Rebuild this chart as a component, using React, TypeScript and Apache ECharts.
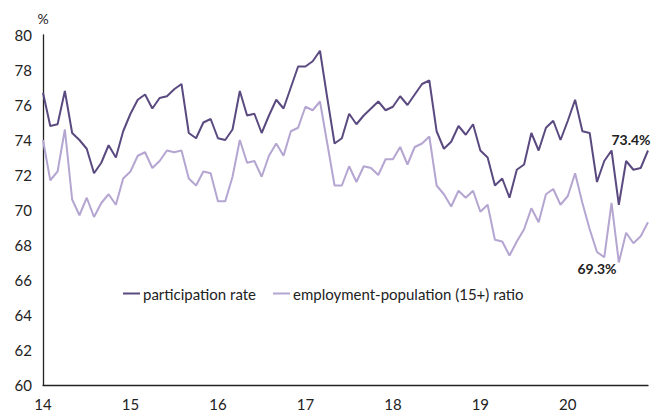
import React, { useEffect, useRef } from "react";
import * as echarts from "echarts";

const years = [2014, 2015, 2016, 2017, 2018, 2019, 2020];
const months = ["01", "02", "03", "04", "05", "06", "07", "08", "09", "10", "11", "12"];
const categories: string[] = [];
years.forEach((y) => months.forEach((m) => categories.push(`${y}-${m}`)));

const participationRate = [
  76.7, 74.8, 74.9, 76.8, 74.4, 74.0, 73.5, 72.1, 72.7, 73.7, 73.0, 74.5,
  75.5, 76.3, 76.6, 75.8, 76.4, 76.5, 76.9, 77.2, 74.4, 74.1, 75.0, 75.2,
  74.1, 74.0, 74.6, 76.8, 75.4, 75.5, 74.4, 75.4, 76.3, 75.8, 77.0, 78.2,
  78.2, 78.5, 79.1, 76.4, 73.8, 74.1, 75.5, 74.9, 75.4, 75.8, 76.2, 75.7,
  75.9, 76.5, 76.0, 76.6, 77.2, 77.4, 74.5, 73.5, 73.9, 74.8, 74.3, 74.9,
  73.4, 73.0, 71.4, 71.8, 70.7, 72.3, 72.6, 74.4, 73.4, 74.7, 75.1, 74.0,
  75.1, 76.3, 74.5, 74.4, 71.6, 72.8, 73.4, 70.3, 72.8, 72.3, 72.4, 73.4,
];

const employmentRatio = [
  74.0, 71.7, 72.2, 74.6, 70.6, 69.7, 70.7, 69.6, 70.4, 70.9, 70.3, 71.8,
  72.2, 73.1, 73.3, 72.4, 72.8, 73.4, 73.3, 73.4, 71.8, 71.4, 72.2, 72.1,
  70.5, 70.5, 71.9, 74.0, 72.7, 72.8, 71.9, 73.1, 73.8, 73.1, 74.5, 74.7,
  75.9, 75.7, 76.2, 73.8, 71.4, 71.4, 72.5, 71.6, 72.5, 72.4, 72.0, 72.9,
  72.9, 73.6, 72.6, 73.6, 73.8, 74.2, 71.4, 70.9, 70.2, 71.1, 70.7, 71.1,
  69.9, 70.3, 68.3, 68.2, 67.4, 68.2, 68.9, 70.1, 69.3, 70.9, 71.2, 70.3,
  70.8, 72.1, 70.4, 68.9, 67.6, 67.3, 70.4, 67.0, 68.7, 68.1, 68.5, 69.3,
];

const seriesNames = ["participation rate", "employment-population (15+) ratio"];
const yTicks = { min: 60, max: 80, interval: 2 };

const FONT = "Lato";
const TEXT = "#222222";
const DARK = "#5a4a80";
const LIGHT = "#b4a5d1";
const FS = 15;

function withLastLabel(values: number[], label: any) {
  return values.map((v, i) =>
    i === values.length - 1
      ? { value: v, label: { show: true, formatter: `${v.toFixed(1)}%`, ...label } }
      : v
  );
}

export default function App() {
  const ref = useRef<HTMLDivElement>(null);

  useEffect(() => {
    document.body.style.margin = "0";
    if (!ref.current) return;
    const chart = echarts.init(ref.current, undefined, { renderer: "svg" });
    const labelStyle = {
      fontFamily: FONT,
      fontSize: 14,
      fontWeight: "bold",
      color: TEXT,
    };
    chart.setOption({
      animation: false,
      textStyle: { fontFamily: FONT, color: TEXT },
      grid: { left: 43, right: 19, top: 35, bottom: 32, containLabel: false },
      legend: {
        left: 118,
        top: 281,
        itemWidth: 17,
        itemHeight: 2,
        itemGap: 17,
        icon: "rect",
        textStyle: { fontFamily: FONT, fontSize: FS, color: TEXT, padding: [0, 0, 0, -2] },
        data: seriesNames,
      },
      xAxis: {
        type: "category",
        data: categories,
        boundaryGap: false,
        axisLine: { show: true, lineStyle: { color: "#222", width: 1.3 } },
        axisTick: { show: false },
        axisLabel: {
          interval: (i: number) => i % 12 === 0,
          formatter: (v: string) => v.slice(2, 4),
          fontFamily: FONT,
          fontSize: FS,
          color: TEXT,
          margin: 11,
        },
        splitLine: { show: false },
      },
      yAxis: {
        type: "value",
        min: yTicks.min,
        max: yTicks.max,
        interval: yTicks.interval,
        name: "%",
        nameLocation: "end",
        nameGap: 10,
        nameTextStyle: { fontFamily: FONT, fontSize: 14, color: TEXT, align: "center" },
        axisLine: { show: true, lineStyle: { color: "#222", width: 1.3 } },
        axisTick: { show: false },
        axisLabel: { fontFamily: FONT, fontSize: FS, color: TEXT, margin: 11 },
        splitLine: { show: false },
      },
      series: [
        {
          name: seriesNames[0],
          type: "line",
          data: withLastLabel(participationRate, {
            ...labelStyle,
            position: "top",
            offset: [-17, 1],
          }),
          symbol: "circle",
          symbolSize: 0,
          showSymbol: true,
          showAllSymbol: true,
          lineStyle: { color: DARK, width: 2 },
          itemStyle: { color: DARK },
          emphasis: { disabled: true },
          z: 3,
        },
        {
          name: seriesNames[1],
          type: "line",
          data: withLastLabel(employmentRatio, {
            ...labelStyle,
            position: "bottom",
            offset: [-51, 34],
          }),
          symbol: "circle",
          symbolSize: 0,
          showSymbol: true,
          showAllSymbol: true,
          lineStyle: { color: LIGHT, width: 2 },
          itemStyle: { color: LIGHT },
          emphasis: { disabled: true },
          z: 2,
        },
      ],
    });
    return () => chart.dispose();
  }, []);

  return <div ref={ref} style={{ width: 667, height: 417 }} />;
}
